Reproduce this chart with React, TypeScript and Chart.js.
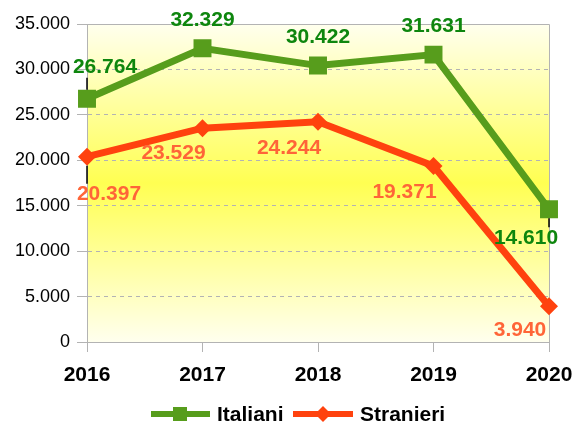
import React, { useEffect, useRef } from "react";
import { Chart, registerables } from "chart.js";

Chart.register(...registerables);

const years = ["2016", "2017", "2018", "2019", "2020"];
const italiani = [26764, 32329, 30422, 31631, 14610];
const stranieri = [20397, 23529, 24244, 19371, 3940];
const yTicks = [0, 5000, 10000, 15000, 20000, 25000, 30000, 35000];

const GREEN = "#579d1c";
const ORANGE = "#ff420e";
const GREEN_LABEL = "#0e860e";
const ORANGE_LABEL = "#ff6538";
const GRID = "#b3b3b3";

// label placement (style only)
const labelStyle = [
  { color: GREEN_LABEL, offsets: [[18, -32], [0, -28], [0, -28], [0, -28], [-23, 29]], leaders: [true, false, false, false, true] },
  { color: ORANGE_LABEL, offsets: [[22, 38], [-29, 25], [-29, 26], [-29, 26], [-29, 24]], leaders: [true, false, false, false, false] },
];

const fmt = (v: number) => {
  const s = Math.round(v).toString();
  return s.replace(/\B(?=(\d{3})+(?!\d))/g, ".");
};

const bgPlugin = {
  id: "bgPlugin",
  beforeDraw(chart: any) {
    const { ctx, chartArea: a } = chart;
    const g = ctx.createLinearGradient(0, a.top, 0, a.bottom);
    g.addColorStop(0, "#ffffee");
    g.addColorStop(0.5, "#ffff52");
    g.addColorStop(1, "#ffffee");
    ctx.save();
    ctx.fillStyle = g;
    ctx.fillRect(a.left, a.top, a.right - a.left, a.bottom - a.top);
    ctx.restore();
  },
  beforeDatasetsDraw(chart: any) {
    const { ctx, chartArea: a } = chart;
    ctx.save();
    ctx.strokeStyle = GRID;
    ctx.lineWidth = 1;
    ctx.setLineDash([]);
    ctx.beginPath();
    ctx.moveTo(a.left, a.top + 0.5);
    ctx.lineTo(a.right + 0.5, a.top + 0.5);
    ctx.lineTo(a.right + 0.5, a.bottom);
    ctx.stroke();
    ctx.restore();
  },
  afterDatasetsDraw(chart: any) {
    const { ctx } = chart;
    ctx.save();
    ctx.font = "bold 21px 'Liberation Sans', Arial, sans-serif";
    ctx.textAlign = "center";
    ctx.textBaseline = "middle";
    chart.data.datasets.forEach((ds: any, di: number) => {
      const meta = chart.getDatasetMeta(di);
      const st = labelStyle[di];
      meta.data.forEach((pt: any, i: number) => {
        const [dx, dy] = st.offsets[i];
        const lx = pt.x + dx;
        const ly = pt.y + dy;
        if (st.leaders[i]) {
          const sign = dy > 0 ? 1 : -1;
          ctx.strokeStyle = "#000";
          ctx.lineWidth = 1.5;
          ctx.beginPath();
          ctx.moveTo(pt.x, pt.y + sign * 9);
          ctx.lineTo(pt.x, ly - sign * 11);
          ctx.stroke();
        }
        ctx.fillStyle = st.color;
        ctx.fillText(fmt(ds.data[i]), lx, ly);
      });
    });
    ctx.restore();
  },
  afterDraw(chart: any) {
    const { ctx } = chart;
    ctx.save();
    const y = 414;
    // Italiani
    ctx.strokeStyle = GREEN;
    ctx.lineWidth = 6;
    ctx.beginPath();
    ctx.moveTo(151, y);
    ctx.lineTo(210, y);
    ctx.stroke();
    ctx.fillStyle = GREEN;
    ctx.fillRect(173, y - 7, 14, 14);
    // Stranieri
    ctx.strokeStyle = ORANGE;
    ctx.beginPath();
    ctx.moveTo(293, y);
    ctx.lineTo(353, y);
    ctx.stroke();
    ctx.fillStyle = ORANGE;
    ctx.beginPath();
    ctx.moveTo(323, y - 8);
    ctx.lineTo(331, y);
    ctx.lineTo(323, y + 8);
    ctx.lineTo(315, y);
    ctx.closePath();
    ctx.fill();
    ctx.fillStyle = "#000";
    ctx.font = "bold 21px 'Liberation Sans', Arial, sans-serif";
    ctx.textAlign = "left";
    ctx.textBaseline = "middle";
    ctx.fillText(chart.data.datasets[0].label, 217, y + 1);
    ctx.fillText(chart.data.datasets[1].label, 360, y + 1);
    ctx.restore();
  },
};

export default function App() {
  const ref = useRef<HTMLCanvasElement>(null);
  useEffect(() => {
    document.body.style.margin = "0";
    const chart = new Chart(ref.current!, {
      type: "line",
      data: {
        labels: years,
        datasets: [
          {
            label: "Italiani",
            data: italiani,
            borderColor: GREEN,
            backgroundColor: GREEN,
            borderWidth: 7,
            pointStyle: "rect",
            pointRadius: 12.7,
            pointBorderWidth: 0,
            tension: 0,
          },
          {
            label: "Stranieri",
            data: stranieri,
            borderColor: ORANGE,
            backgroundColor: ORANGE,
            borderWidth: 7,
            pointStyle: "rectRot",
            pointRadius: 9,
            pointBorderWidth: 0,
            tension: 0,
          },
        ],
      },
      plugins: [bgPlugin],
      options: {
        animation: false,
        responsive: false,
        layout: { padding: { top: 24, right: 27, left: 0, bottom: 0 } },
        plugins: { legend: { display: false }, tooltip: { enabled: false } },
        scales: {
          x: {
            offset: false,
            grid: { drawOnChartArea: false, drawTicks: true, tickLength: 10, color: GRID },
            border: { color: GRID },
            ticks: {
              color: "#000",
              font: { family: "'Liberation Sans', Arial, sans-serif", size: 21, weight: "bold" },
              padding: 11,
              maxRotation: 0,
            },
            afterFit: (s: any) => {
              s.height = 83;
              s.paddingLeft = 0;
              s.paddingRight = 0;
            },
          },
          y: {
            min: 0,
            max: 35000,
            afterBuildTicks: (s: any) => {
              s.ticks = yTicks.map((v) => ({ value: v }));
            },
            grid: { color: GRID, tickLength: 10, tickBorderDash: [], drawTicks: true },
            border: { color: GRID, dash: [4, 4] },
            ticks: {
              color: "#000",
              font: { family: "'Liberation Sans', Arial, sans-serif", size: 18 },
              padding: 7,
              callback: (v: any) => fmt(Number(v)),
            },
            afterFit: (s: any) => {
              s.width = 87;
              s.paddingTop = 0;
              s.paddingBottom = 0;
            },
          },
        },
      } as any,
    });
    return () => chart.destroy();
  }, []);
  return <canvas ref={ref} width={576} height={425} style={{ display: "block" }} />;
}
